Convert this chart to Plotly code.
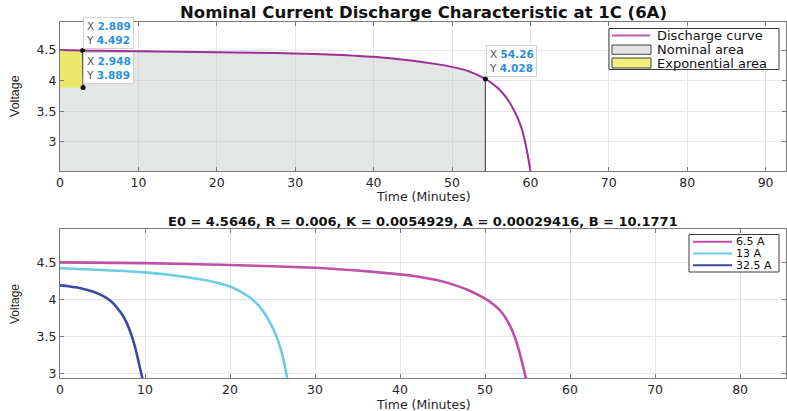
import plotly.graph_objects as go

# ---------------- data ----------------
# Top: nominal discharge curve at 1C (6A)
t_nom = [0, 2.889, 5, 10, 15, 20, 25, 30, 35, 40, 45, 48, 50, 52, 54.26,
         55, 56, 57, 58, 58.8, 59.4, 59.9, 60.1]
v_nom = [4.500, 4.492, 4.488, 4.480, 4.472, 4.463, 4.455, 4.446, 4.425, 4.390,
         4.325, 4.270, 4.225, 4.160, 4.028, 3.965, 3.860, 3.710, 3.490, 3.250,
         2.950, 2.600, 2.400]

# data tips
tip_exp_top = (2.889, 4.492)
tip_exp_bot = (2.948, 3.889)
tip_nom = (54.26, 4.028)

# Bottom: discharge at several currents
t_65 = [0, 10, 20, 30, 35, 40, 42, 44, 45, 46, 48, 50, 51, 52, 53, 53.5, 54, 54.4, 54.8, 55.0]
v_65 = [4.50, 4.49, 4.465, 4.428, 4.39, 4.338, 4.309, 4.268, 4.242, 4.21, 4.127, 4.01,
        3.93, 3.82, 3.63, 3.49, 3.31, 3.13, 2.94, 2.85]

t_13 = [0, 5, 10, 15, 18, 20, 21.5, 22.4, 23.5, 24.4, 25.0, 25.5, 26.0, 26.3, 26.6, 26.85]
v_13 = [4.42, 4.396, 4.365, 4.30, 4.24, 4.175, 4.09, 4.02, 3.90, 3.75, 3.62,
        3.49, 3.32, 3.18, 3.01, 2.86]

t_325 = [0, 1, 2, 3, 4, 5, 6, 6.7, 7.4, 7.9, 8.4, 8.7, 9.0, 9.3, 9.6, 9.8]
v_325 = [4.19, 4.178, 4.16, 4.135, 4.10, 4.05, 3.975, 3.89, 3.78, 3.67, 3.52, 3.41,
         3.28, 3.13, 2.98, 2.88]

series_names = ["6.5 A", "13 A", "32.5 A"]
series_colors = ["#c04fa9", "#6ccde0", "#3a49a4"]

top_legend = ["Discharge curve", "Nominal area", "Exponential area"]
title_top = "Nominal Current Discharge Characteristic at 1C (6A)"
title_bot = "E0 = 4.5646, R = 0.006, K = 0.0054929, A = 0.00029416, B = 10.1771"

x_ticks_top = [0, 10, 20, 30, 40, 50, 60, 70, 80, 90]
x_ticks_bot = [0, 10, 20, 30, 40, 50, 60, 70, 80]
y_ticks = [3, 3.5, 4, 4.5]
y_ticklabels = ["3", "3.5", "4", "4.5"]

# ---------------- style ----------------
FONT = "DejaVu Sans, Liberation Sans, Arial"
NARROW = "Liberation Sans Narrow, Liberation Sans, Arial"
TXT = "#262626"
PURPLE = "#9c2f97"
GRAY_FILL = "rgba(190,193,193,0.42)"
YELLOW = "#ece86c"
EDGE = "#3c3c3c"
SPL = dict(shape="spline", smoothing=0.5)

fig = go.Figure()

# nominal area (under curve up to nominal point)
n_idx = t_nom.index(tip_nom[0]) + 1
fig.add_trace(go.Scatter(x=t_nom[:n_idx], y=v_nom[:n_idx], mode="lines",
                         line=dict(width=0, **SPL),
                         fill="tozeroy", fillcolor=GRAY_FILL, showlegend=False,
                         hoverinfo="skip", xaxis="x", yaxis="y"))
# exponential area
fig.add_trace(go.Scatter(x=[0, 0, tip_exp_top[0], tip_exp_bot[0], 0],
                         y=[tip_exp_bot[1], v_nom[0], tip_exp_top[1], tip_exp_bot[1], tip_exp_bot[1]],
                         mode="lines", line=dict(width=0), fill="toself",
                         fillcolor=YELLOW, showlegend=False, hoverinfo="skip",
                         xaxis="x", yaxis="y"))
# edges
fig.add_trace(go.Scatter(x=[tip_nom[0], tip_nom[0]], y=[0, tip_nom[1]], mode="lines",
                         line=dict(color="#505050", width=1.2), showlegend=False,
                         hoverinfo="skip", xaxis="x", yaxis="y"))
fig.add_trace(go.Scatter(x=[tip_exp_top[0], tip_exp_bot[0]], y=[tip_exp_top[1], tip_exp_bot[1]],
                         mode="lines", line=dict(color=EDGE, width=1.2), showlegend=False,
                         hoverinfo="skip", xaxis="x", yaxis="y"))
# discharge curve
fig.add_trace(go.Scatter(x=t_nom, y=v_nom, mode="lines",
                         line=dict(color=PURPLE, width=2, **SPL),
                         name=top_legend[0], showlegend=False, xaxis="x", yaxis="y"))
# data tip markers
fig.add_trace(go.Scatter(x=[tip_exp_top[0], tip_exp_bot[0], tip_nom[0]],
                         y=[tip_exp_top[1], tip_exp_bot[1], tip_nom[1]],
                         mode="markers", marker=dict(color="#111111", size=5),
                         showlegend=False, hoverinfo="skip", xaxis="x", yaxis="y"))

# bottom curves
for t, v, nm, c in zip([t_65, t_13, t_325], [v_65, v_13, v_325], series_names, series_colors):
    fig.add_trace(go.Scatter(x=t, y=v, mode="lines", name=nm,
                             line=dict(color=c, width=2.6, **SPL),
                             showlegend=False, xaxis="x2", yaxis="y2"))

axis_common = dict(showline=True, linecolor="#7a7a7a", linewidth=1, mirror="ticks",
                   ticks="inside", ticklen=4, tickcolor="#7a7a7a", showgrid=True,
                   gridcolor="#e6e6e6", gridwidth=1, zeroline=False,
                   tickfont=dict(family=FONT, size=12.5, color=TXT))

fig.update_layout(
    width=787, height=411,
    margin=dict(l=60, r=1, t=22, b=33),
    paper_bgcolor="white", plot_bgcolor="white",
    showlegend=False,
    xaxis=dict(domain=[0, 1], range=[0, 92.6], tickvals=x_ticks_top, anchor="y", **axis_common),
    yaxis=dict(domain=[0.5815, 1], range=[2.52, 4.96], tickvals=y_ticks,
               ticktext=y_ticklabels, anchor="x", **axis_common),
    xaxis2=dict(domain=[0, 1], range=[0, 85.4], tickvals=x_ticks_bot, anchor="y2", **axis_common),
    yaxis2=dict(domain=[0, 0.4185], range=[2.94, 4.95], tickvals=y_ticks,
                ticktext=y_ticklabels, anchor="x2", **axis_common),
)

def px2x(px):
    return (px - 60) / 726.0

def py2y(py):
    return (378 - py) / 356.0

ann = []
# titles
ann.append(dict(text="<b>" + title_top + "</b>", x=0.5, y=py2y(12), xref="paper", yref="paper",
                showarrow=False, font=dict(family=FONT, size=16.5, color="#111111"),
                xanchor="center", yanchor="middle"))
ann.append(dict(text="<b>" + title_bot + "</b>", x=0.5, y=py2y(221), xref="paper", yref="paper",
                showarrow=False, font=dict(family=FONT, size=13, color="#111111"),
                xanchor="center", yanchor="middle"))
# axis titles
for py in (196.5, 404):
    ann.append(dict(text="Time (Minutes)", x=0.5, y=py2y(py), xref="paper", yref="paper",
                    showarrow=False, font=dict(family=FONT, size=12.5, color=TXT),
                    xanchor="center", yanchor="middle"))
for py, fs in ((96, 12.5), (304, 12)):
    ann.append(dict(text="Voltage", x=px2x(15), y=py2y(py), xref="paper", yref="paper",
                    showarrow=False, textangle=-90, font=dict(family=NARROW, size=fs, color=TXT),
                    xanchor="center", yanchor="middle"))

# data tips
def tip_text(xv, yv):
    return ("<span style='color:#555555'>X</span> <b><span style='color:#2e8fe0'>%s</span></b><br>"
            "<span style='color:#555555'>Y</span> <b><span style='color:#2e8fe0'>%s</span></b>") % (xv, yv)

for (xv, yv), xs, ys in ((tip_exp_top, 0, 2), (tip_exp_bot, 0, 3), (tip_nom, 1, 2)):
    ann.append(dict(text=tip_text(("%g" % xv), ("%.3f" % yv)), x=xv, y=yv, xref="x", yref="y",
                    showarrow=False, xanchor="left", yanchor="bottom", xshift=xs, yshift=ys,
                    align="left", bgcolor="white", bordercolor="#d2d2d2", borderwidth=1,
                    borderpad=2, font=dict(family=FONT, size=10.5, color="#555555")))

shapes = []
# top legend (manual)
shapes.append(dict(type="rect", xref="paper", yref="paper", x0=px2x(609), x1=px2x(779),
                   y0=py2y(69.5), y1=py2y(28.5), line=dict(color="#3a3a3a", width=1), fillcolor="white"))
shapes.append(dict(type="line", xref="paper", yref="paper", x0=px2x(612), x1=px2x(650),
                   y0=py2y(35.5), y1=py2y(35.5), line=dict(color="#c25ab5", width=2)))
shapes.append(dict(type="rect", xref="paper", yref="paper", x0=px2x(612), x1=px2x(651),
                   y0=py2y(54.3), y1=py2y(45), line=dict(color="#404040", width=1), fillcolor="#e3e4e4"))
shapes.append(dict(type="rect", xref="paper", yref="paper", x0=px2x(612), x1=px2x(651),
                   y0=py2y(68), y1=py2y(58), line=dict(color="#404040", width=1), fillcolor="#f3ef7c"))
for lbl, py in zip(top_legend, (35.5, 49.6, 63)):
    ann.append(dict(text=lbl, x=px2x(655), y=py2y(py), xref="paper", yref="paper", showarrow=False,
                    xanchor="left", yanchor="middle", font=dict(family=FONT, size=13, color="#111111")))

# bottom legend (manual)
shapes.append(dict(type="rect", xref="paper", yref="paper", x0=px2x(689), x1=px2x(779),
                   y0=py2y(272), y1=py2y(234.5), line=dict(color="#3a3a3a", width=1), fillcolor="white"))
for lbl, c, py in zip(series_names, series_colors, (241.8, 253.5, 265.2)):
    shapes.append(dict(type="line", xref="paper", yref="paper", x0=px2x(693), x1=px2x(732),
                       y0=py2y(py), y1=py2y(py), line=dict(color=c, width=2)))
    ann.append(dict(text=lbl, x=px2x(734), y=py2y(py), xref="paper", yref="paper", showarrow=False,
                    xanchor="left", yanchor="middle", font=dict(family=FONT, size=11, color="#111111")))

fig.update_layout(annotations=ann, shapes=shapes)

fig.write_html("out.html")
